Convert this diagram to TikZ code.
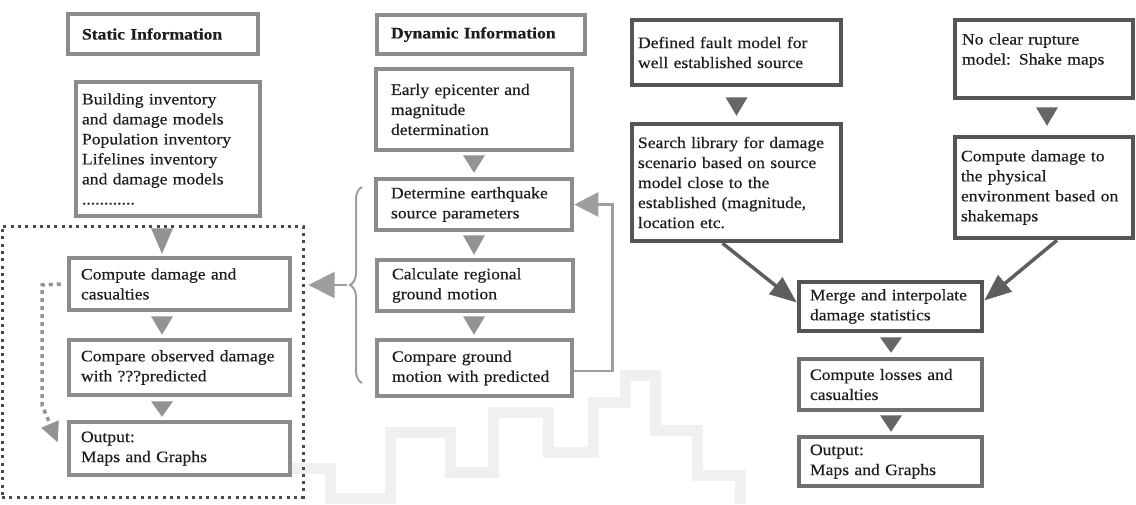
\documentclass[tikz,border=0pt]{standalone}
\usepackage{fontspec}
\setmainfont{Liberation Serif}[FakeStretch=1.1,FakeBold=0.35]
\usetikzlibrary{arrows.meta,calc,decorations.pathreplacing}

\definecolor{lbord}{HTML}{8C8C8C}
\definecolor{dbord}{HTML}{555555}
\definecolor{mbord}{HTML}{707070}
\definecolor{ltri}{HTML}{939393}
\definecolor{dtri}{HTML}{666666}
\definecolor{dotc}{HTML}{4A4A4A}
\definecolor{lline}{HTML}{9E9E9E}
\definecolor{diagc}{HTML}{5E5E5E}
\definecolor{txt}{HTML}{1E1E1E}
\definecolor{faint}{HTML}{F0F0F0}

% a filled wedge pointing down from box #3 to box #4, centred on axis #2
\newcommand\drop[6]{%
  \fill[#1] ($(#2 |- #3.south)+(-11,#5)$) -- ($(#2 |- #3.south)+(11,#5)$)
            -- ($(#2 |- #4.north)+(0,-#6)$) -- cycle;}

\begin{document}
\begin{tikzpicture}[x=1pt,y=-1pt,
  every node/.style={font=\fontsize{16}{20}\selectfont, text=txt},
  grayframe/.style={draw=lbord, line width=4.5pt, fill=white, align=left,
                    inner xsep=14pt, inner ysep=0pt},
  darkframe/.style={grayframe, draw=dbord},
  midframe/.style={grayframe, draw=mbord},
  head/.style={grayframe, font=\fontsize{16}{20}\selectfont\bfseries},
  loopbox/.style={draw=dotc, line width=3pt, dash pattern=on 3pt off 4.3pt,
                  inner sep=0pt},
  diag/.style={draw=diagc, line width=3.5pt, -{Triangle[width=21pt,length=27pt]}},
  back/.style={draw=lline, line width=2.5pt, -{Triangle[width=24pt,length=24pt]}},
  dotback/.style={draw=ltri, line width=3.5pt, dash pattern=on 4pt off 4pt,
                  -{Triangle[width=18pt,length=20pt]}},
  bracec/.style={draw=lline, line width=2pt, decorate,
                 decoration={brace, amplitude=12pt}},
]
% canvas
\fill[white] (0,0) rectangle (1136,504);
\useasboundingbox (0,0) rectangle (1136,504);

% faint blocky squiggle in the background
\draw[faint, line width=11pt, line join=miter]
  (290,468) -- (330,468) -- (330,498) -- (390,498) -- (390,432) -- (450,432)
  -- (450,472) -- (493,472) -- (493,412) -- (548,412) -- (548,452) -- (593,452)
  -- (593,402) -- (625,402) -- (625,375) -- (655,375) -- (655,430) -- (697,430)
  -- (697,475) -- (740,475) -- (740,504);

% column axes for the wedges
\coordinate (axL) at (162,0);
\coordinate (axM) at (474,0);
\coordinate (axF) at (736.5,0);
\coordinate (axN) at (1047,0);
\coordinate (axR) at (891,0);

% ---- static information column
\node[loopbox, minimum width=301pt, minimum height=271pt] (loop) at (152.5,361.5) {};
\node[head, text width=162pt, minimum height=40pt] (stat) at (163,34) {Static Information};
\node[grayframe, inner xsep=6pt, text width=172pt, minimum height=134pt] (inv) at (168,149)
  {Building inventory\\and damage models\\Population inventory\\Lifelines inventory\\and damage models\\............};
\node[grayframe, inner xsep=12pt, text width=197pt, minimum height=52pt] (comp) at (179.5,284)
  {Compute damage and\\casualties};
\node[grayframe, inner xsep=12pt, text width=197pt, minimum height=55pt] (cmpobs) at (179.5,367.5)
  {Compare observed damage\\with ???predicted};
\node[grayframe, inner xsep=12pt, text width=197pt, minimum height=53pt] (outL) at (179.5,448.5)
  {Output:\\Maps and Graphs};

% ---- dynamic information column
\node[head, text width=180pt, minimum height=39pt] (dyn) at (481,34.5) {Dynamic Information};
\node[grayframe, inner xsep=15pt, text width=166pt, minimum height=81pt] (early) at (474,109.5)
  {Early epicenter and\\magnitude\\determination};
\node[grayframe, inner xsep=15pt, text width=166pt, minimum height=51pt] (det) at (474,204.5)
  {Determine earthquake\\source parameters};
\node[grayframe, inner xsep=15pt, text width=166pt, minimum height=51pt] (calc) at (475,285.5)
  {Calculate regional\\ground motion};
\node[grayframe, inner xsep=15pt, text width=165pt, minimum height=56pt] (cmpgm) at (474.5,368)
  {Compare ground\\motion with predicted};

% ---- scenario branch
\node[darkframe, inner xsep=6pt, text width=197pt, minimum height=65pt] (fault) at (736.5,52.5)
  {Defined fault model for\\well established source};
\node[darkframe, inner xsep=6pt, text width=197pt, minimum height=117pt] (search) at (736.5,182.5)
  {Search library for damage\\scenario based on source\\model close to the\\established (magnitude,\\location etc.};
\node[darkframe, inner xsep=7pt, text width=164pt, minimum height=78pt] (noclear) at (1044,59)
  {No clear rupture\\model: Shake maps\\\mbox{}};
\node[darkframe, inner xsep=6pt, text width=166pt, minimum height=101pt] (phys) at (1044,187.5)
  {Compute damage to\\the physical\\environment based on\\shakemaps};
\node[darkframe, inner xsep=11pt, text width=161pt, minimum height=49pt] (merge) at (890.5,306.5)
  {Merge and interpolate\\damage statistics};
\node[midframe, inner xsep=11pt, text width=161pt, minimum height=51pt] (losses) at (890.5,384.5)
  {Compute losses and\\casualties};
\node[midframe, inner xsep=11pt, text width=161pt, minimum height=49pt] (outR) at (890.5,461.5)
  {Output:\\Maps and Graphs};

% ---- wedges between consecutive steps
\drop{ltri}{axL}{inv}{comp}{10}{2}
\drop{ltri}{axL}{comp}{cmpobs}{4}{3}
\drop{ltri}{axL}{cmpobs}{outL}{4}{3}
\drop{ltri}{axM}{early}{det}{3}{4}
\drop{ltri}{axM}{det}{calc}{3}{3}
\drop{ltri}{axM}{calc}{cmpgm}{3}{3}
\drop{dtri}{axF}{fault}{search}{10}{6}
\drop{dtri}{axN}{noclear}{phys}{7}{9}
\drop{dtri}{axR}{merge}{losses}{4}{4}
\drop{dtri}{axR}{losses}{outR}{3}{3}

% ---- converging arrows
\draw[diag] ($(search.south)+(-14,0)$) -- ($(merge.west)+(0,-4)$);
\draw[diag] ($(phys.south)+(13,0)$) -- ($(merge.east)+(0,-6)$);

% ---- loop back to the source parameters
\draw[back] ($(cmpgm.east)+(0,3)$) -- ++(38,0) |- (det.east);

% ---- brace over the dynamic steps, feeding the damage loop
\coordinate (brb) at (362,383);
\coordinate (brt) at (362,187);
\coordinate (brtip) at (347,285);
\draw[bracec] (brb) -- (brt);
\draw[back, line width=2pt, -{Triangle[width=26pt,length=26pt]}]
  (brtip) -- ($(loop.east |- brtip)+(4,0)$);

% ---- dotted feedback inside the damage loop
\coordinate (fbtop) at (42,285);
\coordinate (fbbot) at (42,405);
\draw[dotback] ($(comp.west)+(-6,0)$) -- (fbtop) -- (fbbot) -- ($(outL.west)+(-9,-6)$);
\end{tikzpicture}
\end{document}
